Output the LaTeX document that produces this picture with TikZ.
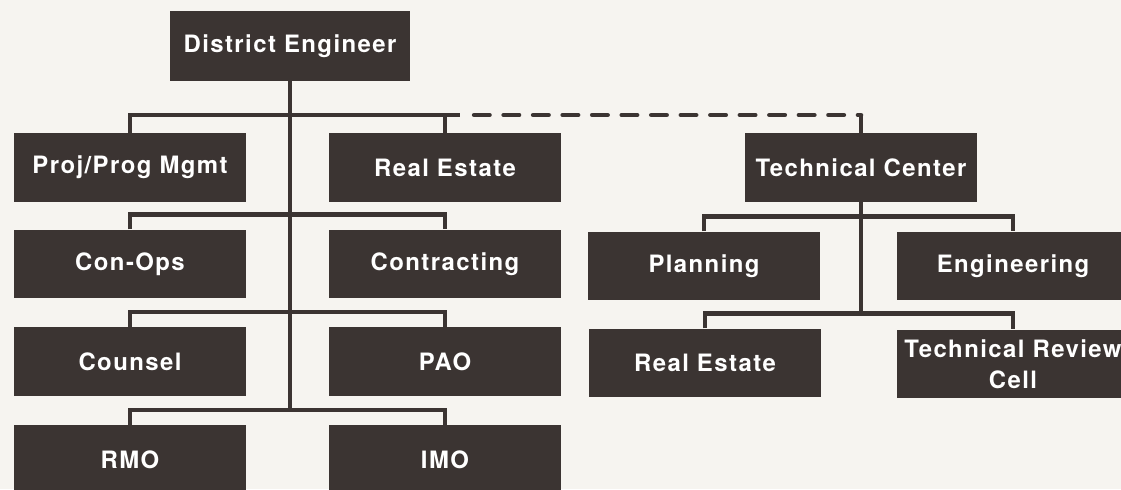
\documentclass[tikz,border=0pt]{standalone}
\usepackage{fontspec}
\newfontfamily\chartfont{TeX Gyre Heros}[LetterSpace=6]
\usepackage{tikz}
\definecolor{ink}{HTML}{3B3432}
\definecolor{paper}{HTML}{F6F4F0}
\tikzset{
  unit/.style={fill=ink, text=white, font=\chartfont\bfseries\fontsize{17}{22}\selectfont,
    minimum width=5.8cm, minimum height=1.72cm, inner sep=0pt, align=center},
  wire/.style={ink, line width=3.2pt},
  link/.style={ink, line width=3.2pt, line cap=round, dash pattern=on 11pt off 10pt, dash phase=11pt}
}

\begin{document}
\begin{tikzpicture}[x=0.025cm, y=-0.025cm]
      \fill[paper] (0,0) rectangle (1121,489);
      \useasboundingbox (0,0) rectangle (1121,489);

      \node[unit, minimum width=5.975cm, minimum height=1.75cm] (de) at (290,46) {District Engineer};
      \node[unit] (pm) at (130,167.5) {Proj/Prog Mgmt};
      \node[unit] (re) at (445,167.5) {Real Estate};
      \node[unit] (conops) at (130,264) {Con-Ops};
      \node[unit] (ctr) at (445,264) {Contracting};
      \node[unit] (counsel) at (130,361.5) {Counsel};
      \node[unit] (pao) at (445,361.5) {PAO};
      \node[unit] (rmo) at (130,459.5) {RMO};
      \node[unit] (imo) at (445,459.5) {IMO};

      \node[unit] (tc) at (861,167.5) {Technical Center};
      \node[unit] (plan) at (704,266) {Planning};
      \node[unit] (eng) at (1013,266) {Engineering};
      \node[unit] (re2) at (705,363) {Real Estate};
      \node[unit] (trc) at (1013,364) {Technical Review\\Cell};

      \coordinate (split) at (460,115);
      \draw[wire] (pm.north) |- (split);
      \draw[wire] (re.north) -- (re.north |- split);
      \draw[wire] (conops.north) -- ++(0,-15) -| (ctr.north);
      \draw[wire] (counsel.north) -- ++(0,-15) -| (pao.north);
      \draw[wire] (rmo.north) -- ++(0,-15) coordinate (b4) -| (imo.north);
      \draw[wire] (de.south) -- (de.south |- b4);

      \draw[link] (split) -- (split -| tc.north);
      \draw[wire] (tc.north) -- (tc.north |- split);
      \draw[wire] (plan.north) -- ++(0,-15) -| (eng.north);
      \draw[wire] (re2.north) -- ++(0,-15) coordinate (b6) -| (trc.north);
      \draw[wire] (tc.south) -- (tc.south |- b6);
    \end{tikzpicture}
\end{document}
